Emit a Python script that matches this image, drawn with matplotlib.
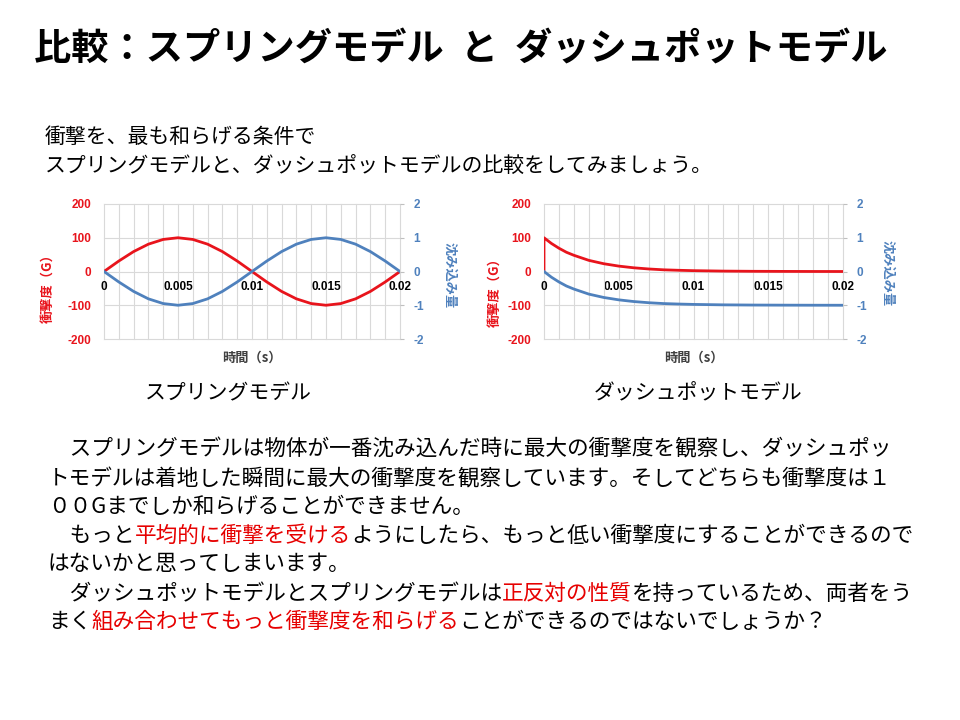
import matplotlib.pyplot as plt
from matplotlib.ticker import MultipleLocator

plt.rcParams['font.family'] = ['Noto Sans CJK JP', 'DejaVu Sans']

RED = '#e8141c'
BLUE = '#4f81bd'
TXT_RED = '#e60000'
GRID = '#d9d9d9'

# spring model: impact (G) and sink depth
spring_t = [0, 0.001, 0.002, 0.003, 0.004, 0.005, 0.006, 0.007, 0.008, 0.009, 0.010,
            0.011, 0.012, 0.013, 0.014, 0.015, 0.016, 0.017, 0.018, 0.019, 0.020]
spring_g = [0, 31, 59, 81, 95, 100, 95, 81, 59, 31, 0,
            -31, -59, -81, -95, -100, -95, -81, -59, -31, 0]
spring_d = [0, -0.31, -0.59, -0.81, -0.95, -1.0, -0.95, -0.81, -0.59, -0.31, 0,
            0.31, 0.59, 0.81, 0.95, 1.0, 0.95, 0.81, 0.59, 0.31, 0]

# dashpot model
dash_t_g = [0, 0, 0.0005, 0.001, 0.0015, 0.002, 0.003, 0.004, 0.005, 0.006, 0.007,
            0.008, 0.009, 0.010, 0.012, 0.014, 0.016, 0.018, 0.020]
dash_g = [0, 100, 83, 69, 57, 48, 33, 23, 16, 11, 7.5,
          5, 3.6, 2.5, 1.2, 0.6, 0.3, 0.1, 0]
dash_t_d = [0, 0.0005, 0.001, 0.0015, 0.002, 0.003, 0.004, 0.005, 0.006, 0.007,
            0.008, 0.009, 0.010, 0.012, 0.014, 0.016, 0.018, 0.020]
dash_d = [0, -0.17, -0.31, -0.43, -0.52, -0.67, -0.77, -0.84, -0.89, -0.925,
          -0.95, -0.964, -0.975, -0.988, -0.994, -0.997, -0.999, -1.0]

x_ticks = [0, 0.005, 0.01, 0.015, 0.02]
x_labels = ['0', '0.005', '0.01', '0.015', '0.02']
g_ticks = [-200, -100, 0, 100, 200]
d_ticks = [-2, -1, 0, 1, 2]

fig = plt.figure(figsize=(9.6, 7.2), dpi=100)
bg = fig.add_axes([0, 0, 1, 1])
bg.set_axis_off()
bg.set_xlim(0, 960)
bg.set_ylim(720, 0)

NUM = dict(fontweight='bold', family='Liberation Sans', fontsize=8.5)


def chart(rect, tg, g, td, d, lab_left, lab_right):
    ax = fig.add_axes(rect)
    ax.spines['bottom'].set_position(('data', 0))
    for s in ax.spines.values():
        s.set_visible(False)
    ax.plot(tg, g, color=RED, lw=2.0, solid_capstyle='butt')
    ax.set_xlim(0, 0.02)
    ax.set_ylim(-200, 200)
    ax.xaxis.set_minor_locator(MultipleLocator(0.001))
    ax.tick_params(axis='x', which='both', length=0, pad=7, labelcolor='black')
    ax.tick_params(axis='y', length=0, pad=9, labelcolor=RED)
    ax.set_xticks(x_ticks, x_labels, **NUM)
    ax.set_yticks(g_ticks, [str(v) for v in g_ticks], **NUM)
    ax.grid(True, which='both', axis='x', color=GRID, lw=0.8, clip_on=False)
    ax.grid(True, which='major', axis='y', color=GRID, lw=0.8, clip_on=False)
    ax.set_axisbelow(True)

    ax2 = ax.twinx()
    for s in ax2.spines.values():
        s.set_visible(False)
    ax2.plot(td, d, color=BLUE, lw=2.0)
    ax2.set_ylim(-2, 2)
    ax2.tick_params(axis='y', length=3, color='#bfbfbf', pad=6.5, labelcolor=BLUE)
    ax2.set_yticks(d_ticks, [str(v) for v in d_ticks], **NUM)

    ax.text(lab_left[0], lab_left[1], '衝撃度（G）', transform=ax.transAxes,
            rotation=90, ha='center', va='center', color=RED, fontsize=9.5,
            fontweight='bold')
    ax.text(lab_right[0], lab_right[1], '沈み込み量', transform=ax.transAxes,
            rotation=-90, ha='center', va='center', color=BLUE, fontsize=9.5,
            fontweight='bold')
    ax.text(0.5, -0.09, '時間（s）', transform=ax.transAxes, ha='center',
            va='top', color='#404040', fontsize=9.5, fontweight='bold')
    return ax


chart([104 / 960, 381 / 720, 296 / 960, 135 / 720], spring_t, spring_g,
      spring_t, spring_d, (-0.19, 0.40), (1.169, 0.47))
chart([544 / 960, 381 / 720, 299 / 960, 135 / 720], dash_t_g, dash_g,
      dash_t_d, dash_d, (-0.164, 0.37), (1.15, 0.49))

bg.text(34, 50, '比較：スプリングモデル  と  ダッシュポットモデル', fontsize=26.8,
        fontweight='bold', va='center', ha='left')
bg.text(45, 137, '衝撃を、最も和らげる条件で', fontsize=15, va='center')
bg.text(45, 167, 'スプリングモデルと、ダッシュポットモデルの比較をしてみましょう。',
        fontsize=15, va='center')
bg.text(228, 393, 'スプリングモデル', fontsize=15, ha='center', va='center')
bg.text(698, 393, 'ダッシュポットモデル', fontsize=15, ha='center', va='center')


def para_line(x, y, parts, size=15.6):
    prev = None
    for s, c in parts:
        if prev is None:
            prev = bg.text(x, y, s, color=c, fontsize=size, va='center', ha='left')
        else:
            prev = bg.annotate(s, xy=(1, 0), xycoords=prev, color=c,
                               fontsize=size, va='bottom', ha='left')


K = 'black'
para_line(48, 449, [('　スプリングモデルは物体が一番沈み込んだ時に最大の衝撃度を観察し、ダッシュポッ', K)])
para_line(48, 479, [('トモデルは着地した瞬間に最大の衝撃度を観察しています。そしてどちらも衝撃度は１', K)])
para_line(48, 507, [('００Gまでしか和らげることができません。', K)])
para_line(48, 536, [('　もっと', K), ('平均的に衝撃を受ける', TXT_RED),
                    ('ようにしたら、もっと低い衝撃度にすることができるので', K)])
para_line(48, 564, [('はないかと思ってしまいます。', K)])
para_line(48, 594, [('　ダッシュポットモデルとスプリングモデルは', K), ('正反対の性質', TXT_RED),
                    ('を持っているため、両者をう', K)])
para_line(48, 622, [('まく', K), ('組み合わせてもっと衝撃度を和らげる', TXT_RED),
                    ('ことができるのではないでしょうか？', K)])

fig.savefig('out.png', dpi=100)
